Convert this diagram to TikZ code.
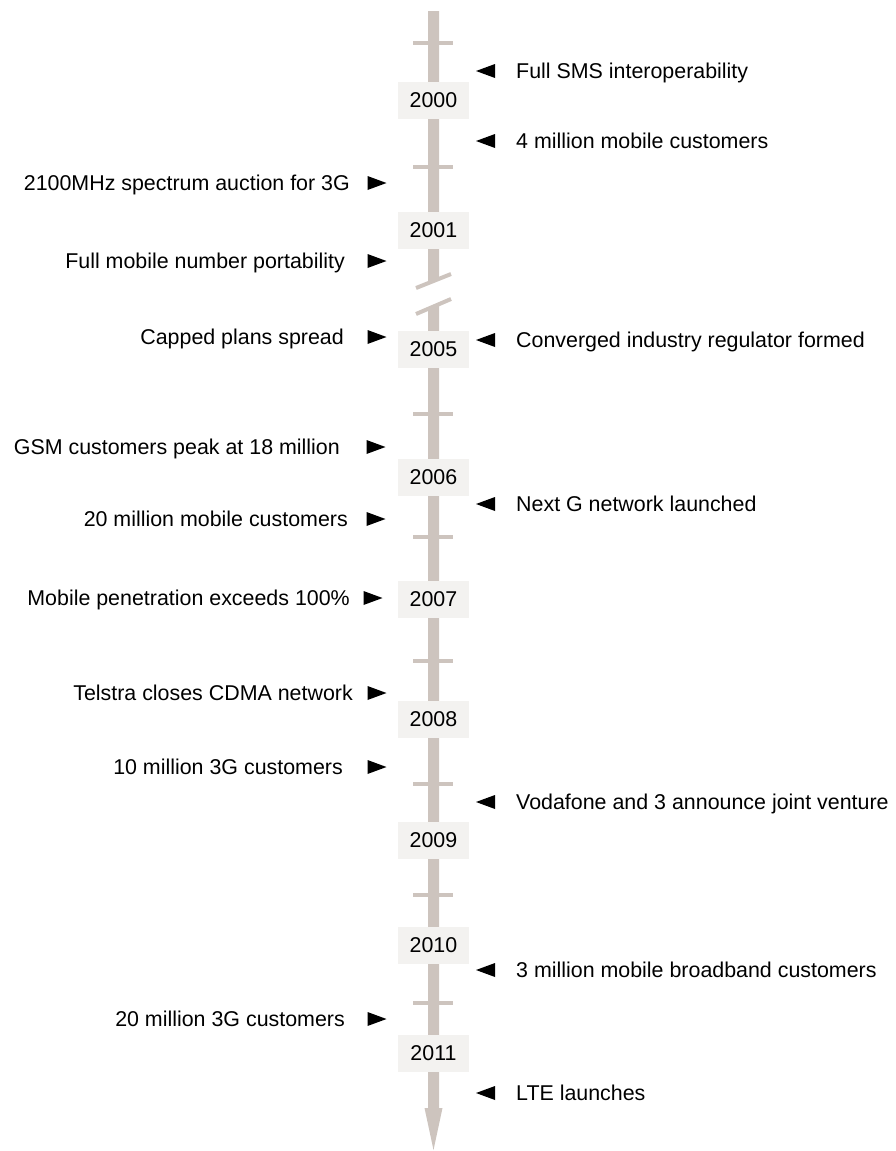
\documentclass[tikz,border=0pt]{standalone}
\usepackage{fontspec}
\setmainfont{Liberation Sans}
\definecolor{shaftcol}{RGB}{205,196,190}
\definecolor{yearfill}{RGB}{243,242,240}
\newcommand\rmark[2]{\fill[black] (#1-9.5,#2-7) -- (#1+9.5,#2) -- (#1-9.5,#2+7) -- cycle;}
\newcommand\lmark[2]{\fill[black] (#1+9.5,#2-7) -- (#1-9.5,#2) -- (#1+9.5,#2+7) -- cycle;}
\begin{document}
\begin{tikzpicture}[x=1pt,y=-1pt,
  font=\fontsize{21.4}{25}\selectfont,
  yearbox/.style={fill=yearfill, minimum width=71pt, minimum height=37pt, inner sep=0pt},
  tickmark/.style={draw=shaftcol, line width=4pt},
  lefttext/.style={anchor=base east, inner sep=0pt},
  righttext/.style={anchor=base west, inner sep=0pt}]
\useasboundingbox (0,0) rectangle (896,1151);
% shaft
\coordinate (top) at (433.5,11);
\fill[shaftcol] (428,11) -- (439,11) -- (439,278.8) -- (428,283.2) -- cycle;
\fill[shaftcol] (428,308.9) -- (439,304.1) -- (439,1108) -- (442.5,1108) -- (433.5,1150) -- (424.5,1108) -- (428,1108) -- cycle;
% break slashes
\draw[tickmark] (416,288) -- (451,274);
\draw[tickmark] (416,314) -- (451,299);
% ticks
\foreach \t in {43,167,414,537,661,784,895,1003}
  \draw[tickmark] (413,\t) -- (453,\t);
% year boxes
\node[yearbox] (y2000) at (433.5,100) {2000};
\node[yearbox] (y2001) at (433.5,230) {2001};
\node[yearbox] (y2005) at (433.5,349) {2005};
\node[yearbox] (y2006) at (433.5,477) {2006};
\node[yearbox] (y2007) at (433.5,599) {2007};
\node[yearbox] (y2008) at (433.5,719) {2008};
\node[yearbox] (y2009) at (433.5,840) {2009};
\node[yearbox] (y2010) at (433.5,945) {2010};
\node[yearbox] (y2011) at (433.5,1053) {2011};
% left events
\node[lefttext] (l1) at (350,183+7.6) {2100MHz spectrum auction for 3G};
\rmark{377}{183}
\node[lefttext] (l2) at (345,261+7.6) {Full mobile number portability};
\rmark{377}{261}
\node[lefttext] (l3) at (344,337+7.6) {Capped plans spread};
\rmark{377}{337}
\node[lefttext] (l4) at (340,447+7.6) {GSM customers peak at 18 million};
\rmark{376}{447}
\node[lefttext] (l5) at (348,519+7.6) {20 million mobile customers};
\rmark{376}{519}
\node[lefttext] (l6) at (350,598+7.6) {Mobile penetration exceeds 100\%};
\rmark{373}{598}
\node[lefttext] (l7) at (353,693+7.6) {Telstra closes CDMA network};
\rmark{377}{693}
\node[lefttext] (l8) at (343,767+7.6) {10 million 3G customers};
\rmark{377}{767}
\node[lefttext] (l9) at (345,1019+7.6) {20 million 3G customers};
\rmark{377}{1019}
% right events
\lmark{485.5}{71}
\node[righttext] (r1) at (516,71+7.6) {Full SMS interoperability};
\lmark{485.5}{141}
\node[righttext] (r2) at (516,141+7.6) {4 million mobile customers};
\lmark{485.5}{340}
\node[righttext] (r3) at (516,340+7.6) {Converged industry regulator formed};
\lmark{485.5}{504}
\node[righttext] (r4) at (516,504+7.6) {Next G network launched};
\lmark{485.5}{802}
\node[righttext] (r5) at (516,802+7.6) {Vodafone and 3 announce joint venture};
\lmark{485.5}{970}
\node[righttext] (r6) at (516,970+7.6) {3 million mobile broadband customers};
\lmark{485.5}{1093}
\node[righttext] (r7) at (516,1093+7.6) {LTE launches};
\end{tikzpicture}
\end{document}
